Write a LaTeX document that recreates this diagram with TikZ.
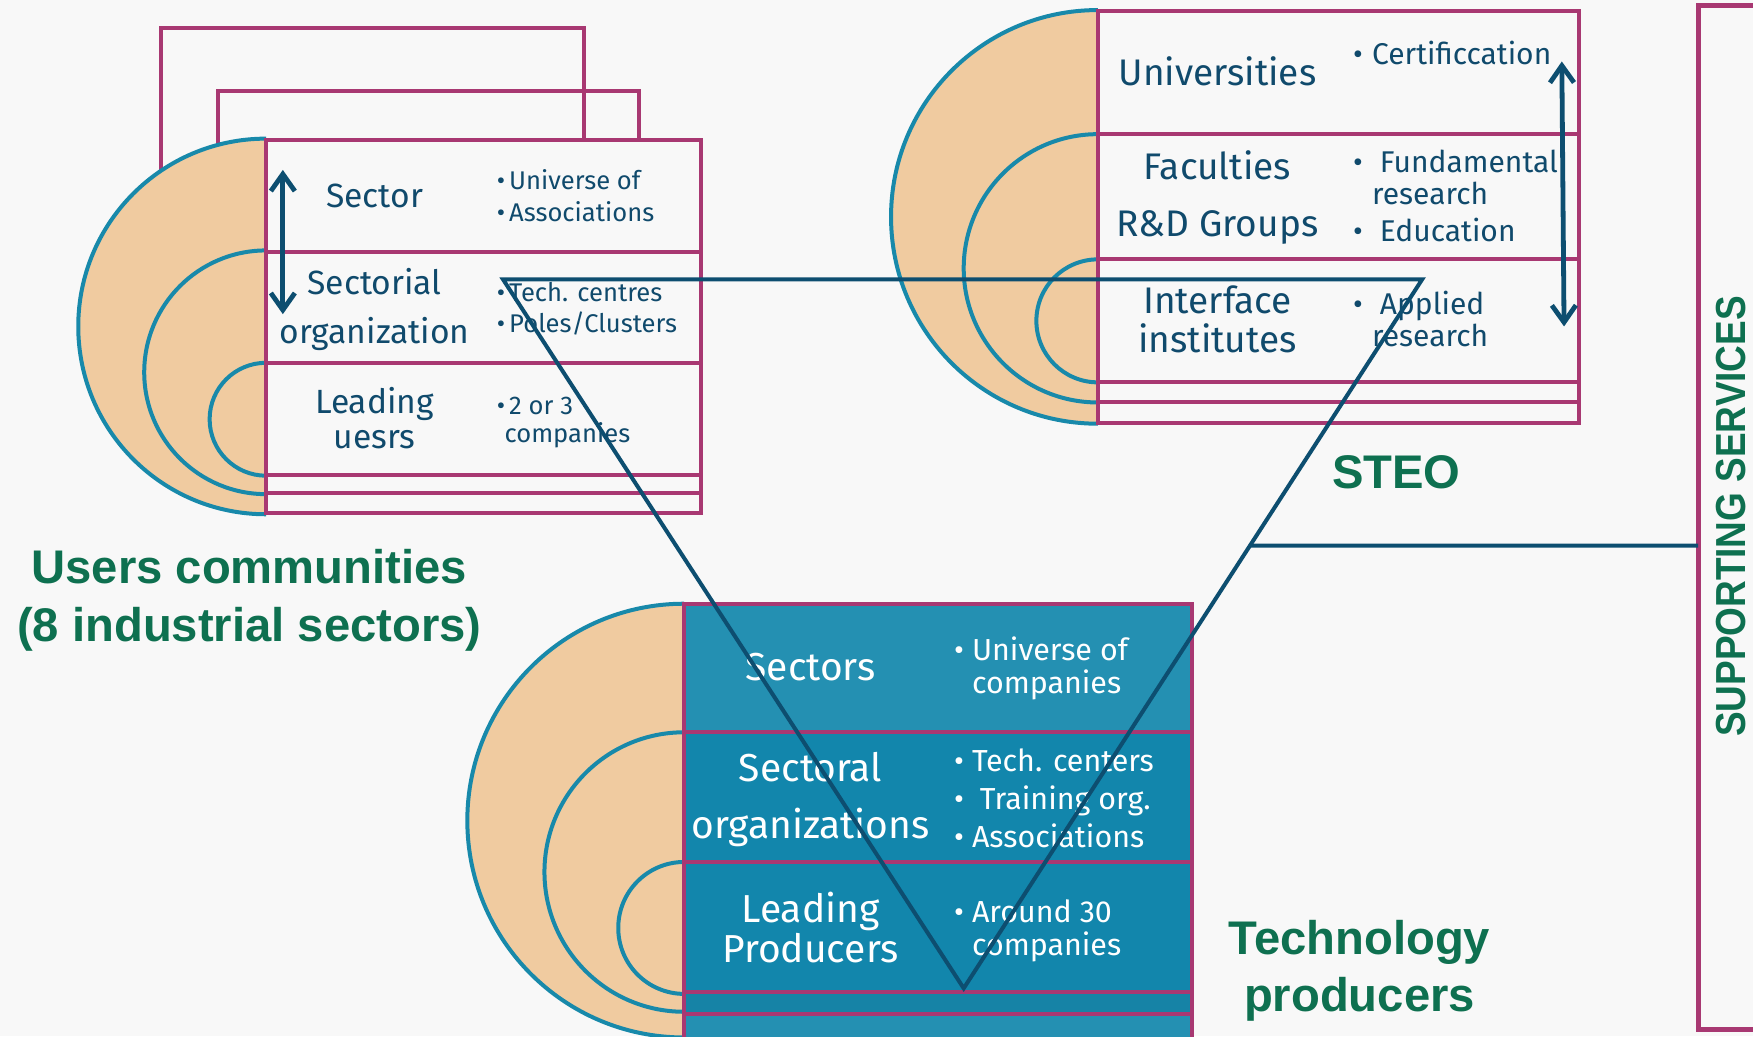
\documentclass[tikz,border=0pt]{standalone}
\usepackage{fontspec}
\setmainfont{Fira Sans}
\newfontfamily\headfont{Liberation Sans}
\newfontfamily\narrowhead[FakeStretch=0.88]{Liberation Sans}
\usetikzlibrary{arrows.meta,calc}
\definecolor{bgc}{RGB}{248,248,248}
\definecolor{mag}{RGB}{168,56,114}
\definecolor{arcc}{RGB}{24,137,170}
\definecolor{peach}{RGB}{240,203,160}
\definecolor{navy}{RGB}{13,78,112}
\definecolor{txt}{RGB}{16,74,108}
\definecolor{grn}{RGB}{14,112,80}
\definecolor{tealA}{RGB}{18,134,172}
\definecolor{tealB}{RGB}{36,144,178}
\definecolor{tealC}{RGB}{22,131,166}
\newcommand\bb[1]{\makebox[#1][l]{\textbullet}}
\begin{document}
\begin{tikzpicture}[x=0.559pt,y=-0.559pt,
  magline/.style={draw=mag,line width=2pt},
  arcline/.style={draw=arcc,line width=2pt},
  tri/.style={draw=navy,line width=2pt},
  dbl/.style={draw=navy,line width=2.4pt,{Straight Barb[length=8.5pt,width=12pt]}-{Straight Barb[length=8.5pt,width=12pt]}},
  lbl/.style={align=center,inner sep=0pt},
  bul/.style={align=left,inner sep=0pt,anchor=west},
  head/.style={text=grn,align=center,inner sep=0pt,font=\headfont\bfseries\fontsize{23.6pt}{29pt}\selectfont}
]
\useasboundingbox (0,0) rectangle (1568,927);
\fill[bgc] (0,0) rectangle (1568,927);

%% ---------- Users communities ----------
\draw[magline] (144,300) -- (144,25) -- (522,25) -- (522,300);
\draw[magline] (195,300) -- (195,81) -- (572,81) -- (572,300);
\begin{scope}
  \clip (0,0) rectangle (238,927);
  \fill[peach] (238,292) circle[radius=168];
  \draw[arcline] (238,292) circle[radius=168];
  \draw[arcline] (238,333) circle[radius=109];
  \draw[arcline] (238,375) circle[radius=50.5];
\end{scope}
\draw[magline,fill=bgc] (238,125) rectangle (627,459);
\foreach \yy in {225,325,425,441} \draw[magline] (238,\yy) -- (627,\yy);

\node[lbl,text=txt,font=\fontsize{16.8pt}{24.6pt}\selectfont] (usec) at (335,175) {Sector};
\node[lbl,text=txt,font=\fontsize{16.8pt}{24.6pt}\selectfont] (uorg) at (335,276.5) {Sectorial\\organization};
\node[lbl,text=txt,font=\fontsize{16.8pt}{17.9pt}\selectfont] (ulead) at (335,374) {Leading\\uesrs};
\node[bul,text=txt,font=\fontsize{12.8pt}{16.2pt}\selectfont] (ub1) at (444,175) {\bb{6.2pt}Universe of\\\bb{6.2pt}Associations};
\node[bul,text=txt,font=\fontsize{12.8pt}{15.7pt}\selectfont] (ub2) at (444,276) {\bb{6.2pt}Tech. centres\\\bb{6.2pt}Poles/Clusters};
\node[bul,text=txt,font=\fontsize{12.8pt}{14pt}\selectfont] (ub3) at (444,377.5) {\bb{6.2pt}2 or 3\\\hspace*{3.9pt}companies};
\coordinate (ua1) at (253,152);
\coordinate (ua2) at (253,281);
\draw[dbl] (ua1) -- (ua2);

\node[head] (uhead) at (223,537) {Users communities\\(8 industrial sectors)};

%% ---------- STEO ----------
\begin{scope}
  \clip (0,0) rectangle (982,927);
  \fill[peach] (982,194) circle[radius=185];
  \draw[arcline] (982,194) circle[radius=185];
  \draw[arcline] (982,240) circle[radius=120];
  \draw[arcline] (982,287) circle[radius=55];
\end{scope}
\draw[magline,fill=bgc] (982,10) rectangle (1412,378);
\foreach \yy in {120,232,342,360} \draw[magline] (982,\yy) -- (1412,\yy);

\node[lbl,text=txt,font=\fontsize{18.5pt}{28.5pt}\selectfont] (suni) at (1089,64) {Universities};
\node[lbl,text=txt,font=\fontsize{18.5pt}{28.5pt}\selectfont] (sfac) at (1089,176.5) {Faculties\\R\&D Groups};
\node[lbl,text=txt,font=\fontsize{18.5pt}{19.6pt}\selectfont] (sint) at (1089,285.5) {Interface\\institutes};
\node[bul,text=txt,font=\fontsize{15pt}{16.2pt}\selectfont] (sb1) at (1210,47) {\bb{9.5pt}Certificcation};
\node[bul,text=txt,font=\fontsize{15pt}{16.2pt}\selectfont] (sb2) at (1210,175) {\bb{13.4pt}Fundamental\\\hspace*{9.5pt}research\\[2.2pt]\bb{13.4pt}Education};
\node[bul,text=txt,font=\fontsize{15pt}{16.2pt}\selectfont] (sb3) at (1210,285.5) {\bb{13.4pt}Applied\\\hspace*{9.5pt}research};
\coordinate (sa1) at (1397,55);
\coordinate (sa2) at (1399,292);
\draw[dbl] (sa1) -- (sa2);

\node[head] (steo) at (1249,422) {STEO};

%% ---------- Technology producers ----------
\begin{scope}
  \clip (0,0) rectangle (612,1000);
  \fill[peach] (612,734) circle[radius=194];
  \draw[arcline] (612,734) circle[radius=194];
  \draw[arcline] (612,780) circle[radius=125];
  \draw[arcline] (612,830) circle[radius=59];
\end{scope}
\fill[tealB] (612,540) rectangle (1066,655);
\fill[tealA] (612,655) rectangle (1066,887);
\fill[tealC] (612,887) rectangle (1066,907);
\fill[tealB] (612,907) rectangle (1066,960);
\draw[magline] (612,960) -- (612,540) -- (1066,540) -- (1066,960);
\foreach \yy in {655,771,887,907} \draw[magline] (612,\yy) -- (1066,\yy);

\node[lbl,text=white,font=\fontsize{19.5pt}{28.5pt}\selectfont] (tsec) at (725,597) {Sectors};
\node[lbl,text=white,font=\fontsize{19.5pt}{28.5pt}\selectfont] (torg) at (725,715.5) {Sectoral\\organizations};
\node[lbl,text=white,font=\fontsize{19.5pt}{20pt}\selectfont] (tlead) at (725,829.5) {Leading\\Producers};
\node[bul,text=white,font=\fontsize{15.2pt}{16.8pt}\selectfont] (tb1) at (853,598) {\bb{9pt}Universe of\\\hspace*{9pt}companies};
\node[bul,text=white,font=\fontsize{15.2pt}{19pt}\selectfont] (tb2) at (853,714) {\bb{9pt}Tech. centers\\\bb{12.9pt}Training org.\\\bb{9pt}Associations};
\node[bul,text=white,font=\fontsize{15.2pt}{16.8pt}\selectfont] (tb3) at (853,832.5) {\bb{9pt}Around 30\\\hspace*{9pt}companies};

\node[head,font=\headfont\bfseries\fontsize{23.6pt}{28.5pt}\selectfont] (thead) at (1216,868) {Technology\\producers};

%% ---------- Supporting services ----------
\draw[draw=mag,line width=2.3pt] (1519,5) rectangle (1610,921);
\node[text=grn,inner sep=0pt,rotate=90,font=\narrowhead\bfseries\fontsize{21pt}{24pt}\selectfont] (sstext) at (1548,462) {SUPPORTING SERVICES};
\coordinate (ssw) at (1519,488);

%% ---------- Triangle ----------
\coordinate (t1) at (450,250);
\coordinate (t2) at (1272,250);
\coordinate (t3) at (862,884);
\draw[tri] (t1) -- (t2) -- (t3) -- cycle;
\coordinate (tj) at ($(t2)!0.3754!(t3)$);
\draw[tri] (tj) -- (ssw);
\end{tikzpicture}
\end{document}
